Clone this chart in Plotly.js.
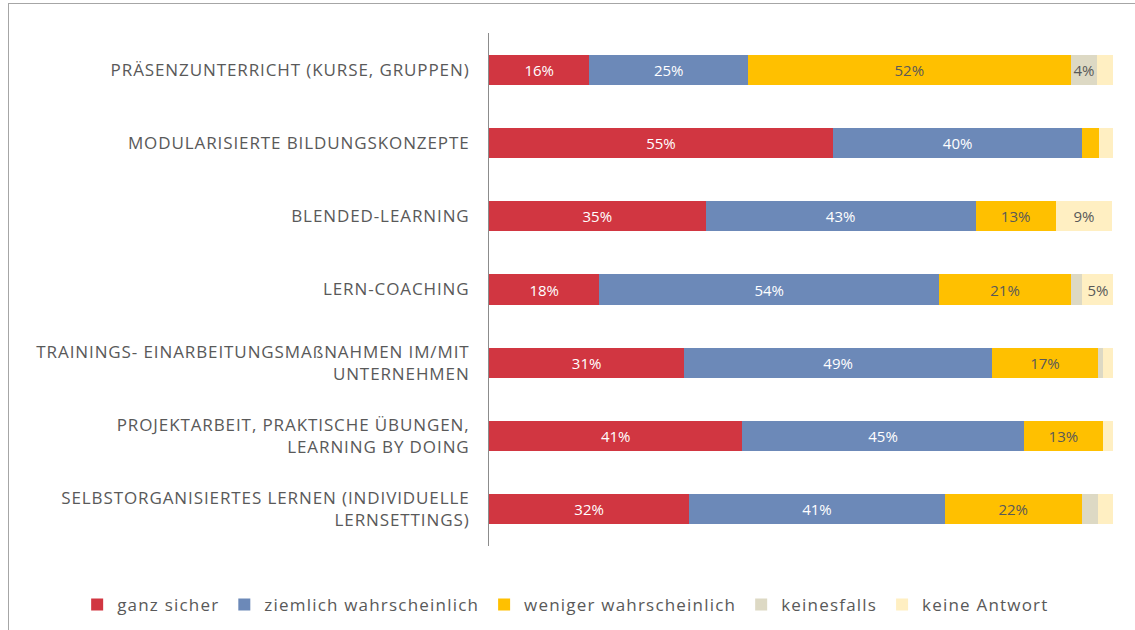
<!DOCTYPE html>
<html><head><meta charset="utf-8">
<script src="https://cdn.plot.ly/plotly-3.0.1.min.js"></script>
<style>
html,body{margin:0;padding:0;background:#fff;overflow:hidden;}
#wrap{position:relative;width:1135px;height:630px;overflow:hidden;}
#chart{width:1135px;height:630px;}
#frame{position:absolute;left:8px;top:3px;width:1200px;height:700px;border:1px solid #a6a6a6;box-sizing:border-box;pointer-events:none;}
.ytick text { letter-spacing: 0.9px; }
text.legendtext { letter-spacing: 1.2px; }
</style></head>
<body><div id="wrap"><div id="chart"></div><div id="frame"></div></div>
<script>
const categories = [
  "PRÄSENZUNTERRICHT (KURSE, GRUPPEN)",
  "MODULARISIERTE BILDUNGSKONZEPTE",
  "BLENDED-LEARNING",
  "LERN-COACHING",
  "TRAININGS- EINARBEITUNGSMAßNAHMEN IM/MIT<br>UNTERNEHMEN",
  "PROJEKTARBEIT, PRAKTISCHE ÜBUNGEN,<br>LEARNING BY DOING",
  "SELBSTORGANISIERTES LERNEN (INDIVIDUELLE<br>LERNSETTINGS)"
];
const seriesNames = ["ganz sicher","ziemlich wahrscheinlich","weniger wahrscheinlich","keinesfalls","keine Antwort"];
const ganzSicher   = [16.1, 55.1, 34.7, 17.7, 31.3, 40.6, 32.1];
const ziemlich     = [25.4, 40.0, 43.3, 54.4, 49.3, 45.1, 40.9];
const weniger      = [51.7, 2.6, 12.8, 21.2, 17.0, 12.7, 22.0];
const keinesfalls  = [4.3, 0, 0, 1.8, 0.8, 0, 2.6];
const keineAntwort = [2.5, 2.4, 9.1, 5.0, 1.6, 1.6, 2.4];
const colors = ["#D13641","#6C89B8","#FFC000","#DDD9C4","#FFEFC2"];
const textColors = ["#ffffff","#ffffff","#595959","#595959","#595959"];
const allSeries = [ganzSicher, ziemlich, weniger, keinesfalls, keineAntwort];
const FONT = "'Open Sans', sans-serif";

const traces = allSeries.map((vals, i) => ({
  type: "bar",
  orientation: "h",
  name: seriesNames[i],
  y: categories,
  x: vals,
  text: vals.map(v => v >= 3.5 ? Math.round(v) + "%" : ""),
  texttemplate: "%{text}",
  textposition: "inside",
  insidetextanchor: "middle",
  textangle: 0,
  constraintext: "none",
  textfont: {family: FONT, size: 15, color: textColors[i]},
  marker: {color: colors[i], line: {width: 0}},
  hoverinfo: "skip"
}));

const layout = {
  width: 1135, height: 630,
  barmode: "stack",
  bargap: 0.59,
  margin: {l: 489, r: 22, t: 33, b: 84, autoexpand: false},
  paper_bgcolor: "#ffffff",
  plot_bgcolor: "#ffffff",
  font: {family: FONT, color: "#595959", size: 17},
  xaxis: {range: [0, 100], visible: false, fixedrange: true},
  yaxis: {
    autorange: "reversed",
    showline: true, linecolor: "#8c8c8c", linewidth: 1,
    ticks: "outside", ticklen: 15, tickcolor: "rgba(0,0,0,0)",
    tickfont: {family: FONT, size: 17, color: "#595959"},
    showgrid: false, zeroline: false, fixedrange: true
  },
  showlegend: true,
  legend: {
    orientation: "h", x: -0.66, xanchor: "left",
    y: -0.115, yanchor: "middle",
    font: {family: FONT, size: 17, color: "#595959"},
    traceorder: "normal"
  }
};
Plotly.newPlot("chart", traces, layout, {displayModeBar: false, staticPlot: true});
</script></body></html>
